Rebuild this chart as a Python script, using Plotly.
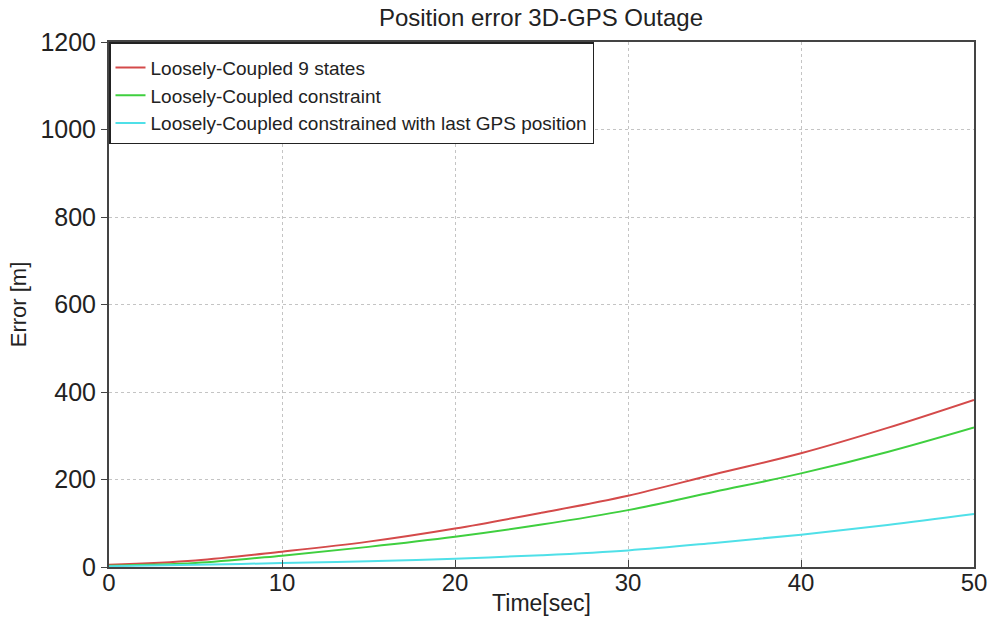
import plotly.graph_objects as go

time_s = [0, 5, 10, 15, 20, 25, 30, 35, 40, 45, 50]
err_9states = [5, 15, 35, 58, 88, 124, 163, 212, 260, 318, 382]
err_constraint = [3, 9, 26, 46, 69, 97, 130, 172, 214, 263, 319]
err_last_gps = [2, 5, 9, 13, 19, 27, 38, 55, 74, 96, 121]

names = [
    "Loosely-Coupled 9 states",
    "Loosely-Coupled constraint",
    "Loosely-Coupled constrained with last GPS position",
]
colors = ["#d44a4a", "#3fcf3f", "#4fe0e8"]

fig = go.Figure()
for name, ys, c in zip(names, [err_9states, err_constraint, err_last_gps], colors):
    fig.add_trace(go.Scatter(x=time_s, y=ys, mode="lines", name=name,
                             line=dict(color=c, width=2, shape="spline", smoothing=1.0)))

font_family = "Liberation Sans, Arial, sans-serif"
fig.update_layout(
    width=1000, height=627,
    paper_bgcolor="white", plot_bgcolor="white",
    margin=dict(l=109, r=26, t=42, b=60, autoexpand=False),
    title=dict(text="Position error 3D-GPS Outage", x=0.541, xanchor="center",
               y=0.972, yanchor="middle",
               font=dict(family=font_family, size=24, color="#222")),
    font=dict(family=font_family, color="#222"),
    showlegend=True,
    legend=dict(x=0, y=1, xanchor="left", yanchor="top",
                bgcolor="white", bordercolor="#222", borderwidth=1.5,
                font=dict(size=19, color="#222"), tracegroupgap=0,
                title=dict(text=" ", font=dict(size=4))),
)
fig.update_xaxes(range=[0, 50], tickvals=[0, 10, 20, 30, 40, 50],
                 showline=True, linecolor="#444", linewidth=2, mirror=True,
                 ticks="inside", ticklen=7, tickcolor="#444", ticklabelstandoff=-7,
                 showgrid=True, gridcolor="#c4c4c4", griddash="dot", gridwidth=1,
                 zeroline=False, tickfont=dict(size=24, color="#222"), automargin=False,
                 title=dict(text="Time[sec]", font=dict(size=23, color="#222"), standoff=0))
fig.update_yaxes(range=[0, 1200], tickvals=[0, 200, 400, 600, 800, 1000, 1200],
                 showline=True, linecolor="#444", linewidth=2, mirror=True,
                 ticks="outside", ticklen=6, tickcolor="#444",
                 showgrid=True, gridcolor="#c4c4c4", griddash="dot", gridwidth=1,
                 zeroline=False, tickfont=dict(size=25, color="#222"), automargin=False,
                 title=dict(text="Error [m]", font=dict(size=22, color="#222"), standoff=8))

fig.write_html("out.html", config={"displayModeBar": False},
               post_script="document.body.style.margin='0';")
